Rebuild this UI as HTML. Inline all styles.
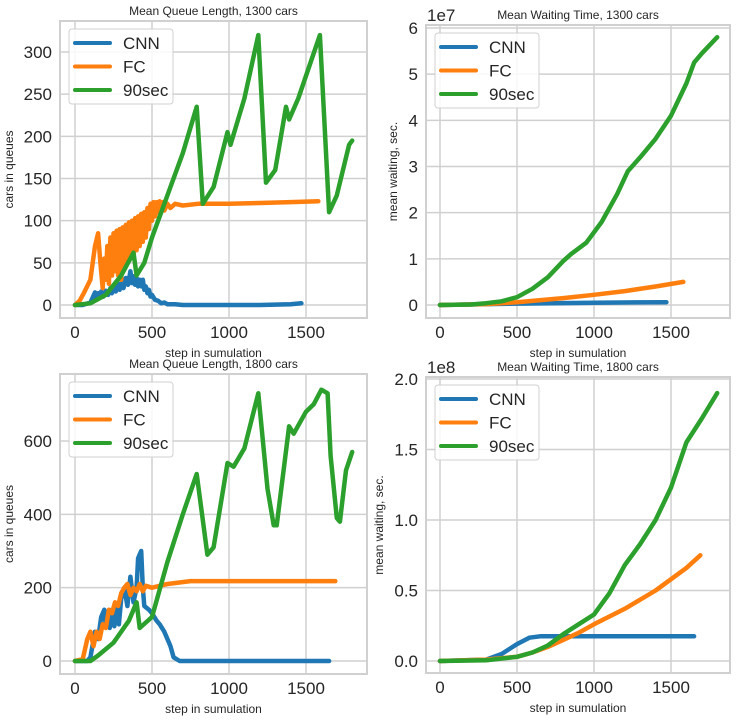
<!DOCTYPE html>
<html><head><meta charset="utf-8"><style>
body{margin:0;background:#fff;}
svg{display:block;font-family:"Liberation Sans",sans-serif;}
</style></head><body>
<svg id="fig" width="737" height="723" viewBox="0 0 737 723"></svg>
<script>
// ---------- data ----------
const xTicks = [0, 500, 1000, 1500];
const qTicks1300 = [0, 50, 100, 150, 200, 250, 300];
const qTicks1800 = [0, 200, 400, 600];
const wTicks1300 = [0, 1, 2, 3, 4, 5, 6];
const wTickLabels1300 = ["0","1","2","3","4","5","6"];
const wTicks1800 = [0, 0.5, 1.0, 1.5, 2.0];
const wTickLabels1800 = ["0.0","0.5","1.0","1.5","2.0"];
const seriesNames = ["CNN", "FC", "90sec"];

const cnnQ1300 = [[0,0],[50,0],[100,3],[130,15],[140,8],[150,14],[160,9],[170,16],[185,10],[200,17],[215,12],[230,20],[240,14],[250,22],[265,16],[280,25],[290,18],[300,26],[315,20],[330,32],[345,24],[360,40],[370,26],[380,34],[390,24],[400,32],[410,22],[420,30],[430,22],[440,30],[450,18],[460,22],[470,14],[480,18],[490,10],[500,12],[520,6],[540,5],[560,2],[580,3],[600,1],[650,1],[700,0],[800,0],[1000,0],[1200,0],[1400,1],[1470,2]];
const fcQ1300 = [[0,0],[30,5],[60,15],[100,30],[130,70],[150,85],[165,50],[180,20],[190,55],[200,30],[210,70],[220,25],[230,80],[240,35],[250,85],[260,40],[270,88],[280,35],[290,90],[300,30],[310,92],[320,45],[330,95],[340,50],[350,98],[360,55],[370,100],[380,60],[390,103],[400,65],[410,105],[420,70],[430,108],[440,75],[450,110],[460,80],[470,115],[480,90],[490,120],[500,100],[510,122],[520,105],[530,122],[540,110],[550,123],[560,112],[570,122],[580,112],[600,120],[620,115],[650,120],[700,118],[800,120],[1000,120],[1200,121],[1400,122],[1580,123]];
const secQ1300 = [[0,0],[100,2],[200,12],[300,35],[380,62],[400,35],[450,50],[500,80],[600,130],[700,180],[790,235],[830,120],[900,140],[990,205],[1010,190],[1100,245],[1190,320],[1240,145],[1300,160],[1370,235],[1390,220],[1450,245],[1590,320],[1650,110],[1700,130],[1780,190],[1800,195]];

const cnnQ1800 = [[0,0],[80,0],[100,10],[130,80],[150,60],[170,120],[190,140],[200,95],[210,120],[225,90],[240,140],[255,95],[270,150],[285,100],[300,170],[320,200],[340,150],[360,230],[380,160],[400,200],[410,280],[430,300],[440,200],[450,150],[480,140],[500,130],[530,110],[550,100],[580,80],[600,60],[620,40],[640,10],[680,0],[800,0],[1650,0]];
const fcQ1800 = [[0,0],[50,5],[80,60],[100,80],[120,40],[140,80],[160,60],[180,100],[200,90],[220,140],[240,130],[260,160],[280,150],[300,185],[320,200],[340,210],[360,180],[380,200],[400,190],[420,210],[440,190],[460,205],[500,200],[550,205],[600,210],[750,218],[1000,218],[1690,218]];
const secQ1800 = [[0,0],[100,0],[150,15],[250,50],[350,110],[400,160],[420,90],[500,120],[600,270],[700,400],[790,510],[860,290],[900,310],[990,540],[1030,530],[1100,580],[1190,730],[1250,470],[1290,370],[1310,370],[1390,640],[1420,620],[1500,680],[1550,700],[1600,740],[1640,730],[1660,560],[1700,390],[1720,380],[1760,520],[1800,570]];

const cnnW1300 = [[0,0],[500,0.03],[1000,0.05],[1470,0.06]];
const fcW1300 = [[0,0],[300,0.02],[500,0.06],[800,0.15],[1000,0.22],[1200,0.3],[1400,0.4],[1580,0.5]];
const secW1300 = [[0,0],[200,0.01],[300,0.04],[400,0.08],[500,0.17],[600,0.35],[700,0.6],[800,0.95],[850,1.1],[950,1.35],[1050,1.8],[1150,2.4],[1220,2.9],[1300,3.2],[1400,3.6],[1500,4.1],[1600,4.8],[1650,5.25],[1700,5.45],[1800,5.8]];

const cnnW1800 = [[0,0],[300,0.01],[400,0.05],[500,0.12],[580,0.165],[650,0.175],[1650,0.175]];
const fcW1800 = [[0,0],[300,0.01],[500,0.03],[600,0.06],[700,0.1],[800,0.15],[900,0.2],[1000,0.26],[1200,0.37],[1400,0.5],[1600,0.66],[1690,0.75]];
const secW1800 = [[0,0],[300,0.005],[500,0.03],[600,0.06],[700,0.11],[800,0.19],[900,0.26],[1000,0.33],[1100,0.48],[1200,0.68],[1300,0.83],[1400,1.0],[1500,1.23],[1600,1.55],[1700,1.72],[1800,1.9]];

// ---------- drawing ----------
const NS = "http://www.w3.org/2000/svg";
const svg = document.getElementById("fig");
const colors = ["#1f77b4", "#ff7f0e", "#2ca02c"];
function mk(tag, attrs, parent) {
  const e = document.createElementNS(NS, tag);
  for (const k in attrs) e.setAttribute(k, attrs[k]);
  (parent || svg).appendChild(e);
  return e;
}
function panel(cfg) {
  const g = mk("g", {});
  
  
  const sx = v => cfg.x0 + (v - 0) * (cfg.x1500 - cfg.x0) / 1500;
  const sy = v => cfg.y0 + v * (cfg.yTop - cfg.y0) / cfg.yTopVal;
  cfg.xt.forEach(t => {
    const l = mk("line", {x1: sx(t), x2: sx(t), y1: cfg.fy0, y2: cfg.fy1, stroke: "#d0d0d0", "stroke-width": 1.5}, g);
    
    
    const tx = mk("text", {x: sx(t), y: cfg.fy1 + 20, "text-anchor": "middle", "font-size": 17, fill: "#262626"}, g);
    tx.textContent = t;
    
    
  });
  cfg.yt.forEach((t, i) => {
    const l = mk("line", {x1: cfg.fx0, x2: cfg.fx1, y1: sy(t), y2: sy(t), stroke: "#d0d0d0", "stroke-width": 1.5}, g);
    
    
    const tx = mk("text", {x: cfg.fx0 - 8, y: sy(t) + 6, "text-anchor": "end", "font-size": 17, fill: "#262626"}, g);
    tx.textContent = cfg.ytl ? cfg.ytl[i] : t;
    
    
  });
  const fr = mk("rect", {x: cfg.fx0, y: cfg.fy0, width: cfg.fx1 - cfg.fx0, height: cfg.fy1 - cfg.fy0, fill: "none", stroke: "#d0d0d0", "stroke-width": 2}, g);
  
  
  cfg.series.forEach((s, i) => {
    const p = mk("polyline", {points: s.map(d => sx(d[0]).toFixed(1) + "," + sy(d[1]).toFixed(1)).join(" "), fill: "none", stroke: colors[i], "stroke-width": 4.5, "stroke-linejoin": "round", "stroke-linecap": "round"}, g);
    
    
  });
  const ti = mk("text", {x: (cfg.fx0 + cfg.fx1) / 2, y: cfg.fy0 - 6, "text-anchor": "middle", "font-size": 12, fill: "#262626"}, g);
  ti.textContent = cfg.title;
  
  
  const xl = mk("text", {x: (cfg.fx0 + cfg.fx1) / 2, y: cfg.fy1 + 39, "text-anchor": "middle", "font-size": 12, fill: "#262626"}, g);
  xl.textContent = "step in sumulation";
  
  
  const cy = (cfg.fy0 + cfg.fy1) / 2;
  const yl = mk("text", {x: cfg.ylx, y: cy, "text-anchor": "middle", "font-size": 12, fill: "#262626", transform: "rotate(-90 " + cfg.ylx + " " + cy + ")"}, g);
  yl.textContent = cfg.ylabel;
  
  
  if (cfg.offset) {
    const ot = mk("text", {x: cfg.fx0 + 1, y: cfg.fy0 - 4, "font-size": 17, fill: "#262626"}, g);
    ot.textContent = cfg.offset;
    
    
  }
  const lx = cfg.fx0 + 9, ly = cfg.fy0 + 8;
  const lg = mk("g", {}, g);
  
  
  mk("rect", {x: lx, y: ly, width: 104, height: 75, rx: 3, fill: "#fff", "fill-opacity": 0.85, stroke: "#d0d0d0", "stroke-width": 1}, lg);
  seriesNames.forEach((n, i) => {
    const ry = ly + 14 + i * 23.5;
    const e = mk("g", {}, lg);
    
    
    mk("line", {x1: lx + 6, x2: lx + 41, y1: ry, y2: ry, stroke: colors[i], "stroke-width": 4, "stroke-linecap": "round"}, e);
    const t = mk("text", {x: lx + 54, y: ry + 6, "font-size": 17, fill: "#262626"}, e);
    t.textContent = n;
  });
}
panel({name: "queue-1300-chart", fx0: 60, fx1: 367, fy0: 21, fy1: 318, x0: 75, x1500: 306, y0: 305, yTop: 52, yTopVal: 300,
  xt: xTicks, yt: qTicks1300, series: [cnnQ1300, fcQ1300, secQ1300], title: "Mean Queue Length, 1300 cars", ylabel: "cars in queues", ylx: 13});
panel({name: "queue-1800-chart", fx0: 60, fx1: 367, fy0: 374, fy1: 674, x0: 75, x1500: 306, y0: 661, yTop: 441, yTopVal: 600,
  xt: xTicks, yt: qTicks1800, series: [cnnQ1800, fcQ1800, secQ1800], title: "Mean Queue Length, 1800 cars", ylabel: "cars in queues", ylx: 13});
panel({name: "waiting-1300-chart", fx0: 426, fx1: 730, fy0: 25, fy1: 318, x0: 440, x1500: 671, y0: 305, yTop: 28, yTopVal: 6,
  xt: xTicks, yt: wTicks1300, ytl: wTickLabels1300, series: [cnnW1300, fcW1300, secW1300], title: "Mean Waiting Time, 1300 cars", ylabel: "mean waiting, sec.", ylx: 397, offset: "1e7"});
panel({name: "waiting-1800-chart", fx0: 426, fx1: 730, fy0: 377, fy1: 673, x0: 440, x1500: 671, y0: 661, yTop: 379, yTopVal: 2,
  xt: xTicks, yt: wTicks1800, ytl: wTickLabels1800, series: [cnnW1800, fcW1800, secW1800], title: "Mean Waiting Time, 1800 cars", ylabel: "mean waiting, sec.", ylx: 383, offset: "1e8"});
</script>
</body></html>
